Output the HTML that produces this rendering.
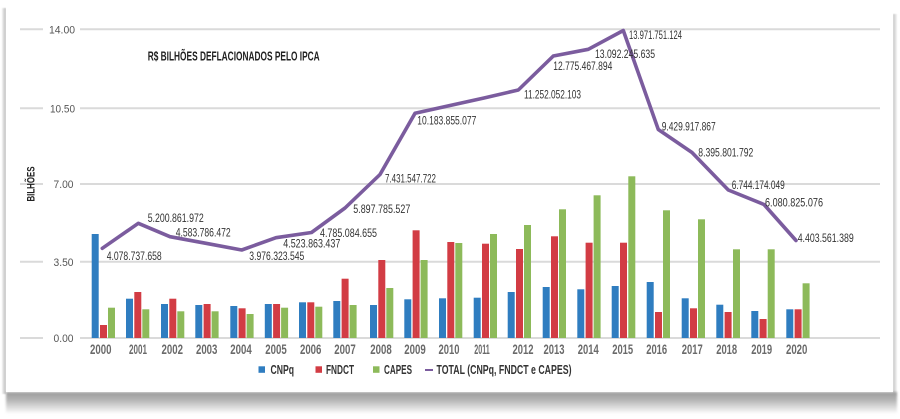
<!DOCTYPE html>
<html>
<head>
<meta charset="utf-8">
<style>
  html,body{margin:0;padding:0;background:#fff;}
  body{width:900px;height:419px;position:relative;overflow:hidden;font-family:"Liberation Sans",sans-serif;}
  .card{position:absolute;left:6px;top:0;width:887px;height:392px;background:#fff;}
  .shl{position:absolute;left:2px;top:8px;width:4px;height:386px;background:linear-gradient(to right,#f0f0f0,#bcbcbc);filter:blur(0.6px);}
  .shr{position:absolute;left:893px;top:14px;width:4px;height:382px;background:linear-gradient(to right,#c4c4c4,#f4f4f4);filter:blur(0.6px);}
  .shb{position:absolute;left:6px;top:392px;width:891px;height:22px;background:linear-gradient(to bottom,#9c9c9c 0%,#b4b4b4 35%,#e2e2e2 75%,#ffffff 100%);filter:blur(1px);}
  svg{position:absolute;left:0;top:0;}
</style>
</head>
<body>
<div class="shl"></div>
<div class="shr"></div>
<div class="shb"></div>
<div class="card"></div>
<svg width="900" height="419" viewBox="0 0 900 419" xmlns="http://www.w3.org/2000/svg" font-family="Liberation Sans, sans-serif">
  <!-- gridlines -->
  <g stroke="#dadada" stroke-width="2">
    <line x1="20" y1="29.3" x2="43" y2="29.3"/><line x1="80" y1="29.3" x2="880" y2="29.3"/>
    <line x1="20" y1="108.3" x2="43" y2="108.3"/><line x1="80" y1="108.3" x2="880" y2="108.3"/>
    <line x1="20" y1="184" x2="43" y2="184"/><line x1="80" y1="184" x2="880" y2="184"/>
    <line x1="20" y1="261.7" x2="43" y2="261.7"/><line x1="80" y1="261.7" x2="880" y2="261.7"/>
    <line x1="20" y1="338" x2="43" y2="338"/><line x1="80" y1="338" x2="880" y2="338"/>
  </g>
  <!-- y tick labels -->
  <g fill="#555" font-size="11" text-anchor="end">
    <text x="75" y="33.5" textLength="26" lengthAdjust="spacingAndGlyphs">14.00</text>
    <text x="75" y="112.5" textLength="25" lengthAdjust="spacingAndGlyphs">10.50</text>
    <text x="73.5" y="188" textLength="20" lengthAdjust="spacingAndGlyphs">7.00</text>
    <text x="73.5" y="265.8" textLength="20" lengthAdjust="spacingAndGlyphs">3.50</text>
    <text x="73.5" y="342" textLength="20" lengthAdjust="spacingAndGlyphs">0.00</text>
  </g>
  <!-- axis title -->
  <text transform="translate(34.3,184) rotate(-90)" text-anchor="middle" font-size="11" font-weight="bold" fill="#222" textLength="35" lengthAdjust="spacingAndGlyphs">BILHÕES</text>
  <!-- chart title -->
  <text x="147.7" y="60.5" font-size="12.5" font-weight="bold" fill="#222" textLength="172" lengthAdjust="spacingAndGlyphs">R$ BILHÕES DEFLACIONADOS PELO IPCA</text>

  <!-- bars -->
  <g>
    <!-- blue CNPq -->
    <g fill="#2f7dc0">
      <rect x="91.7" y="234" width="7" height="104"/>
      <rect x="126" y="298.7" width="7" height="39.3"/>
      <rect x="161" y="304" width="7" height="34"/>
      <rect x="195.3" y="305" width="7" height="33"/>
      <rect x="230.3" y="306" width="7" height="32"/>
      <rect x="264.8" y="304" width="7" height="34"/>
      <rect x="299" y="302.3" width="7" height="35.7"/>
      <rect x="333.3" y="301" width="7" height="37"/>
      <rect x="370" y="305" width="7" height="33"/>
      <rect x="404.3" y="299.3" width="7" height="38.7"/>
      <rect x="439" y="298.3" width="7" height="39.7"/>
      <rect x="473.7" y="297.7" width="7" height="40.3"/>
      <rect x="507.7" y="292" width="7" height="46"/>
      <rect x="542.7" y="287" width="7" height="51"/>
      <rect x="577.3" y="289.3" width="7" height="48.7"/>
      <rect x="611.7" y="286" width="7" height="52"/>
      <rect x="646.7" y="282" width="7" height="56"/>
      <rect x="681.7" y="298.3" width="7" height="39.7"/>
      <rect x="716.3" y="304.7" width="7" height="33.3"/>
      <rect x="751.3" y="311" width="7" height="27"/>
      <rect x="786.3" y="309.3" width="7" height="28.7"/>
    </g>
    <!-- red FNDCT -->
    <g fill="#d23c44">
      <rect x="100" y="325" width="7" height="13"/>
      <rect x="134.3" y="292" width="7" height="46"/>
      <rect x="169.3" y="298.7" width="7" height="39.3"/>
      <rect x="203.6" y="304" width="7" height="34"/>
      <rect x="238.6" y="308.3" width="7" height="29.7"/>
      <rect x="273.1" y="304" width="7" height="34"/>
      <rect x="307.3" y="302.3" width="7" height="35.7"/>
      <rect x="341.6" y="278.7" width="7" height="59.3"/>
      <rect x="378.3" y="260" width="7" height="78"/>
      <rect x="412.6" y="230.3" width="7" height="107.7"/>
      <rect x="447.3" y="242" width="7" height="96"/>
      <rect x="482" y="243.7" width="7" height="94.3"/>
      <rect x="516" y="249" width="7" height="89"/>
      <rect x="551" y="236.3" width="7" height="101.7"/>
      <rect x="585.6" y="242.7" width="7" height="95.3"/>
      <rect x="620" y="242.7" width="7" height="95.3"/>
      <rect x="655" y="312" width="7" height="26"/>
      <rect x="690" y="308.3" width="7" height="29.7"/>
      <rect x="724.6" y="312" width="7" height="26"/>
      <rect x="759.6" y="319" width="7" height="19"/>
      <rect x="794.6" y="309.3" width="7" height="28.7"/>
    </g>
    <!-- green CAPES -->
    <g fill="#8dba5a">
      <rect x="108" y="307.7" width="7" height="30.3"/>
      <rect x="142.3" y="309.3" width="7" height="28.7"/>
      <rect x="177.3" y="311.3" width="7" height="26.7"/>
      <rect x="211.6" y="311.3" width="7" height="26.7"/>
      <rect x="246.6" y="314" width="7" height="24"/>
      <rect x="281.1" y="307.7" width="7" height="30.3"/>
      <rect x="315.3" y="306.7" width="7" height="31.3"/>
      <rect x="349.6" y="305" width="7" height="33"/>
      <rect x="386.3" y="288" width="7" height="50"/>
      <rect x="420.6" y="260" width="7" height="78"/>
      <rect x="455.3" y="243" width="7" height="95"/>
      <rect x="490" y="234" width="7" height="104"/>
      <rect x="524" y="225" width="7" height="113"/>
      <rect x="559" y="209.3" width="7" height="128.7"/>
      <rect x="593.6" y="195.3" width="7" height="142.7"/>
      <rect x="628.3" y="176.3" width="7" height="161.7"/>
      <rect x="663" y="210.3" width="7" height="127.7"/>
      <rect x="698" y="219.3" width="7" height="118.7"/>
      <rect x="733" y="249.3" width="7" height="88.7"/>
      <rect x="767.7" y="249.3" width="7" height="88.7"/>
      <rect x="802.6" y="283.3" width="7" height="54.7"/>
    </g>
  </g>

  <!-- total line -->
  <polyline fill="none" stroke="#7b5c9e" stroke-width="3.6" stroke-linejoin="round" stroke-linecap="round"
    points="102.3,248.3 138.3,223.3 170,236.7 206,243.3 241.7,250 276,237.7 311.5,232.5 345,208 380,174.5 415,113.3 450,105.5 484,98 518.3,90 553.3,56 588.3,49.3 623.3,30.5 658.3,129.5 692,152.5 728.3,190 764,204.5 796,240.5"/>

  <!-- data labels -->
  <g fill="#333" font-size="12" lengthAdjust="spacingAndGlyphs">
    <text x="106.7" y="260" textLength="55" lengthAdjust="spacingAndGlyphs">4.078.737.658</text>
    <text x="147.7" y="222" textLength="56" lengthAdjust="spacingAndGlyphs">5.200.861.972</text>
    <text x="175.7" y="236.5" textLength="55" lengthAdjust="spacingAndGlyphs">4.583.786.472</text>
    <text x="249.3" y="260" textLength="55" lengthAdjust="spacingAndGlyphs">3.976.323.545</text>
    <text x="283.3" y="247.5" textLength="57" lengthAdjust="spacingAndGlyphs">4.523.863.437</text>
    <text x="320" y="237" textLength="57" lengthAdjust="spacingAndGlyphs">4.785.084.655</text>
    <text x="353.3" y="212.8" textLength="57" lengthAdjust="spacingAndGlyphs">5.897.785.527</text>
    <text x="385" y="182.5" textLength="51" lengthAdjust="spacingAndGlyphs">7.431.547.722</text>
    <text x="417.3" y="124.5" textLength="59" lengthAdjust="spacingAndGlyphs">10.183.855.077</text>
    <text x="524" y="98.5" textLength="57" lengthAdjust="spacingAndGlyphs">11.252.052.103</text>
    <text x="553.3" y="70" textLength="59" lengthAdjust="spacingAndGlyphs">12.775.467.894</text>
    <text x="595" y="58" textLength="60" lengthAdjust="spacingAndGlyphs">13.092.245.635</text>
    <text x="629" y="39" textLength="53" lengthAdjust="spacingAndGlyphs">13.971.751.124</text>
    <text x="661.7" y="130.5" textLength="54" lengthAdjust="spacingAndGlyphs">9.429.917.867</text>
    <text x="698.3" y="156.5" textLength="55" lengthAdjust="spacingAndGlyphs">8.395.801.792</text>
    <text x="731.7" y="189" textLength="53" lengthAdjust="spacingAndGlyphs">6.744.174.049</text>
    <text x="765" y="206.5" textLength="58" lengthAdjust="spacingAndGlyphs">6.080.825.076</text>
    <text x="797.7" y="242" textLength="56" lengthAdjust="spacingAndGlyphs">4.403.561.389</text>
  </g>

  <!-- year labels -->
  <g fill="#6a6a6a" font-size="13.5" font-weight="bold" text-anchor="middle">
    <text x="100.8" y="354" textLength="21.5" lengthAdjust="spacingAndGlyphs">2000</text>
    <text x="138" y="354" textLength="18" lengthAdjust="spacingAndGlyphs">2001</text>
    <text x="172.3" y="354" textLength="21.5" lengthAdjust="spacingAndGlyphs">2002</text>
    <text x="206.7" y="354" textLength="21.5" lengthAdjust="spacingAndGlyphs">2003</text>
    <text x="241" y="354" textLength="21.5" lengthAdjust="spacingAndGlyphs">2004</text>
    <text x="276" y="354" textLength="21.5" lengthAdjust="spacingAndGlyphs">2005</text>
    <text x="310.7" y="354" textLength="21.5" lengthAdjust="spacingAndGlyphs">2006</text>
    <text x="345" y="354" textLength="21.5" lengthAdjust="spacingAndGlyphs">2007</text>
    <text x="381" y="354" textLength="21.5" lengthAdjust="spacingAndGlyphs">2008</text>
    <text x="415" y="354" textLength="21.5" lengthAdjust="spacingAndGlyphs">2009</text>
    <text x="449" y="354" textLength="21" lengthAdjust="spacingAndGlyphs">2010</text>
    <text x="482" y="354" textLength="15.5" lengthAdjust="spacingAndGlyphs">2011</text>
    <text x="523" y="354" textLength="21" lengthAdjust="spacingAndGlyphs">2012</text>
    <text x="554" y="354" textLength="21" lengthAdjust="spacingAndGlyphs">2013</text>
    <text x="588.3" y="354" textLength="21" lengthAdjust="spacingAndGlyphs">2014</text>
    <text x="622.7" y="354" textLength="21" lengthAdjust="spacingAndGlyphs">2015</text>
    <text x="656.7" y="354" textLength="21" lengthAdjust="spacingAndGlyphs">2016</text>
    <text x="692.3" y="354" textLength="21" lengthAdjust="spacingAndGlyphs">2017</text>
    <text x="726.7" y="354" textLength="21" lengthAdjust="spacingAndGlyphs">2018</text>
    <text x="761.7" y="354" textLength="21" lengthAdjust="spacingAndGlyphs">2019</text>
    <text x="796.7" y="354" textLength="21.5" lengthAdjust="spacingAndGlyphs">2020</text>
  </g>

  <!-- legend -->
  <rect x="258.5" y="366.3" width="6.5" height="6.5" fill="#2f7dc0"/>
  <rect x="315.5" y="366.3" width="6.5" height="6.5" fill="#d23c44"/>
  <rect x="373" y="366.3" width="6.5" height="6.5" fill="#8dba5a"/>
  <line x1="425" y1="370" x2="433" y2="370" stroke="#7b5c9e" stroke-width="2"/>
  <g fill="#333" font-size="12.5" font-weight="bold">
    <text x="270.5" y="373.8" textLength="23.5" lengthAdjust="spacingAndGlyphs">CNPq</text>
    <text x="326" y="373.8" textLength="28" lengthAdjust="spacingAndGlyphs">FNDCT</text>
    <text x="384" y="373.8" textLength="28" lengthAdjust="spacingAndGlyphs">CAPES</text>
    <text x="436.5" y="373.8" textLength="135" lengthAdjust="spacingAndGlyphs">TOTAL (CNPq, FNDCT e CAPES)</text>
  </g>
</svg>
</body>
</html>
